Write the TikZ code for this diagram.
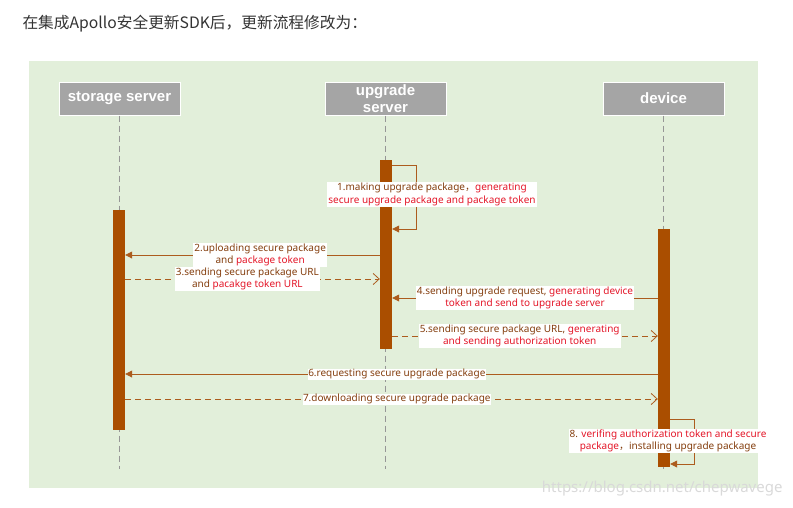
\documentclass[tikz,border=0pt]{standalone}
\usepackage{fontspec}
\setmainfont{Noto Sans}
\newfontfamily\cjk{Noto Sans CJK SC}
\newfontfamily\headfont{Liberation Sans}
\usetikzlibrary{arrows.meta}

\definecolor{bggreen}{RGB}{226,239,218}
\definecolor{headgray}{RGB}{165,165,165}
\definecolor{lifegray}{RGB}{150,150,150}
\definecolor{barbrown}{RGB}{170,78,0}
\definecolor{linebrown}{RGB}{172,92,30}
\definecolor{txtbrown}{RGB}{132,62,14}
\definecolor{txtred}{RGB}{228,22,40}
\definecolor{titlegray}{RGB}{51,51,51}

\begin{document}
\begin{tikzpicture}[
x=1pt,y=-1pt,
myhead/.style={
  fill=headgray,
  draw=white,
  line width=1pt,
  minimum width=121pt,
  minimum height=33pt,
  inner sep=0pt,
  align=center,
  text=white,
  font=\headfont\bfseries\fontsize{15}{17.5}\selectfont
  },
mybar/.style={fill=barbrown,minimum width=12pt,inner sep=0pt,anchor=north},
mylife/.style={draw=lifegray,line width=0.6pt,dash pattern=on 6pt off 4pt},
mymsg/.style={draw=linebrown,line width=0.8pt,-{Triangle[length=7pt,width=7pt]}},
myreply/.style={draw=linebrown,line width=0.8pt,dash pattern=on 6pt off 4pt,-{Straight Barb[length=6pt,width=11pt]}},
mylabel/.style={fill=white,text=txtbrown,inner sep=1pt,align=center,
  font=\fontsize{10}{12.5}\selectfont}
]
\useasboundingbox (0,0) rectangle (793,507);
\fill[bggreen] (29,61) rectangle (758,488);

\node[anchor=west,text=titlegray,font=\cjk\fontsize{15.7}{18}\selectfont] (title) at (19,24)
  {在集成Apollo安全更新SDK后，更新流程修改为：};

% lifelines
\foreach \X/\Name/\Text in {119.5/ss/{storage server},385.5/us/{upgrade\\server},663.5/dev/{device}}
  {
  \node[myhead] (\Name) at (\X,98.5) {\Text};
  \draw[mylife] (\Name.south) -- ++(0,353);
  }

\node[mybar,minimum height=220pt] (sbar) at (119,210) {};
\node[mybar,minimum height=189pt] (ubar) at (386,160) {};
\node[mybar,minimum height=238pt] (dbar) at (664,229) {};

% messages
\draw[mymsg] ([yshift=-5pt]ubar.north east) -- ++(24,0) -- ++(0,64) -- ++(-24,0);
\node[mylabel] (l1) at (432,194.5)
  {1.making upgrade package{\cjk ，}\textcolor{txtred}{generating}\\
   \textcolor{txtred}{secure upgrade package and package token}};

\draw[mymsg] (ubar.west |- 0,255) -- node[mylabel,pos=0.47]
  {2.uploading secure package\\and \textcolor{txtred}{package token}} (sbar.east |- 0,255);
\draw[myreply] (sbar.east |- 0,279) -- node[mylabel,pos=0.48]
  {3.sending secure package URL\\and \textcolor{txtred}{pacakge token URL}} (ubar.west |- 0,279);
\draw[mymsg] (dbar.west |- 0,298) -- node[mylabel]
  {4.sending upgrade request, \textcolor{txtred}{generating device}\\
   \textcolor{txtred}{token and send to upgrade server}} (ubar.east |- 0,298);
\draw[myreply] (ubar.east |- 0,336) -- node[mylabel,pos=0.48]
  {5.sending secure package URL, \textcolor{txtred}{generating}\\
   \textcolor{txtred}{and sending authorization token}} (dbar.west |- 0,336);
\draw[mymsg] (dbar.west |- 0,374) -- node[mylabel,inner sep=0.5pt,pos=0.49]
  {6.requesting secure upgrade package} (sbar.east |- 0,374);
\draw[myreply] (sbar.east |- 0,399) -- node[mylabel,inner sep=0.5pt,pos=0.51]
  {7.downloading secure upgrade package} (dbar.west |- 0,399);

\draw[mymsg] ([yshift=-190pt]dbar.north east) -- ++(24,0) -- ++(0,45) -- ++(-24,0);
\node[mylabel] (l8) at (668,441)
  {8. \textcolor{txtred}{verifing authorization token and secure}\\
   \textcolor{txtred}{package}{\cjk ，}installing upgrade package};

\node[anchor=east,text=black!15,font=\fontsize{15}{18}\selectfont] (wm) at (786,489)
  {https://blog.csdn.net/chepwavege};
\end{tikzpicture}
\end{document}
